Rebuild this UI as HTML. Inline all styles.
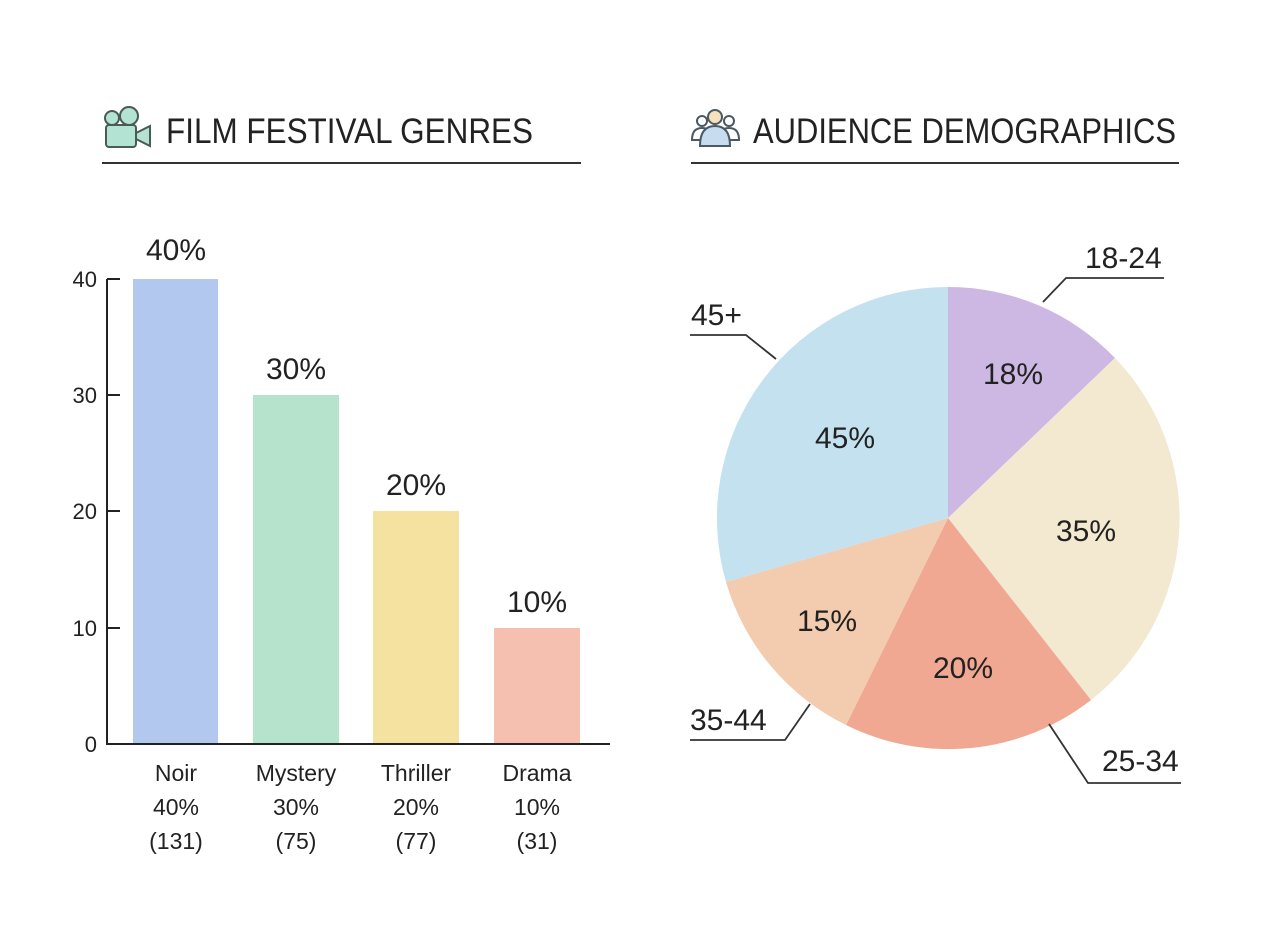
<!DOCTYPE html>
<html><head><style>
html,body{margin:0;padding:0;background:#fff;}
svg text{font-family:"Liberation Sans",sans-serif;fill:#222;}
</style></head><body>
<svg width="1280" height="940" viewBox="0 0 1280 940" xmlns="http://www.w3.org/2000/svg">
<rect width="1280" height="940" fill="#fff"/>
<!-- camera icon -->
<g stroke="#4a5a55" stroke-width="2" fill="#b3e3d2">
<circle cx="112" cy="118" r="7"/><circle cx="129" cy="116" r="9"/>
<rect x="106" y="125" width="30" height="22" rx="3"/>
<path d="M136 133 L150 126 L150 146 L136 139 Z"/>
</g>
<text x="166" y="143" font-size="35" textLength="367" lengthAdjust="spacingAndGlyphs">FILM FESTIVAL GENRES</text>
<line x1="102" y1="163" x2="581" y2="163" stroke="#333" stroke-width="2"/>
<!-- people icon -->
<g stroke="#4a5a65" stroke-width="2">
<circle cx="702" cy="121" r="5" fill="#fff"/><circle cx="729" cy="121" r="5" fill="#fff"/>
<path d="M692 140 q0-12 10-12 q10 0 10 12 z" fill="#fff"/>
<path d="M719 140 q0-12 10-12 q10 0 10 12 z" fill="#fff"/>
<circle cx="715" cy="117" r="7" fill="#f5e2bd"/>
<path d="M700 146 q0-20 15-20 q15 0 15 20 z" fill="#c8dcef"/>
</g>
<text x="753" y="143" font-size="35" textLength="423" lengthAdjust="spacingAndGlyphs">AUDIENCE DEMOGRAPHICS</text>
<line x1="691" y1="163" x2="1179" y2="163" stroke="#333" stroke-width="2"/>

<!-- bars -->
<rect x="133" y="279" width="85" height="465" fill="#b3c8ee"/>
<rect x="253" y="395" width="86" height="349" fill="#b5e3cc"/>
<rect x="373" y="511" width="86" height="233" fill="#f6e2a0"/>
<rect x="494" y="628" width="86" height="116" fill="#f5c0b0"/>
<g stroke="#222" stroke-width="2">
<line x1="107" y1="279" x2="107" y2="745"/>
<line x1="106" y1="744" x2="610" y2="744"/>
<line x1="107" y1="279" x2="120" y2="279"/>
<line x1="107" y1="395" x2="120" y2="395"/>
<line x1="107" y1="511" x2="120" y2="511"/>
<line x1="107" y1="628" x2="120" y2="628"/>
</g>
<g font-size="22" text-anchor="end">
<text x="97" y="287">40</text><text x="97" y="403">30</text><text x="97" y="519">20</text><text x="97" y="636">10</text><text x="97" y="752">0</text>
</g>
<g font-size="30" text-anchor="middle">
<text x="176" y="260">40%</text><text x="296" y="379">30%</text><text x="416" y="495">20%</text><text x="537" y="612">10%</text>
</g>
<g font-size="23" text-anchor="middle">
<text x="176" y="781">Noir</text><text x="176" y="815">40%</text><text x="176" y="849">(131)</text>
<text x="296" y="781">Mystery</text><text x="296" y="815">30%</text><text x="296" y="849">(75)</text>
<text x="416" y="781">Thriller</text><text x="416" y="815">20%</text><text x="416" y="849">(77)</text>
<text x="537" y="781">Drama</text><text x="537" y="815">10%</text><text x="537" y="849">(31)</text>
</g>

<!-- pie: center 948,518 r 231 -->
<path d="M948 518 L948 287 A231 231 0 0 1 1115 358 Z" fill="#cdb8e3"/>
<path d="M948 518 L1115 358 A231 231 0 0 1 1091 700 Z" fill="#f3e8d0"/>
<path d="M948 518 L1091 700 A231 231 0 0 1 846 725 Z" fill="#f0a892"/>
<path d="M948 518 L846 725 A231 231 0 0 1 726 582 Z" fill="#f3cbae"/>
<path d="M948 518 L726 582 A231 231 0 0 1 948 287 Z" fill="#c4e1f0"/>
<g font-size="30" text-anchor="middle">
<text x="1013" y="384">18%</text>
<text x="845" y="448">45%</text>
<text x="1086" y="541">35%</text>
<text x="827" y="631">15%</text>
<text x="963" y="678">20%</text>
</g>
<g stroke="#333" stroke-width="1.8" fill="none">
<polyline points="1043,302 1066,278 1164,278"/>
<polyline points="690,335 746,335 776,359"/>
<polyline points="690,740 785,740 810,704"/>
<polyline points="1049,724 1088,783 1181,783"/>
</g>
<g font-size="30">
<text x="1085" y="268">18-24</text>
<text x="691" y="325">45+</text>
<text x="690" y="730">35-44</text>
<text x="1102" y="771">25-34</text>
</g>
</svg>
</body></html>
